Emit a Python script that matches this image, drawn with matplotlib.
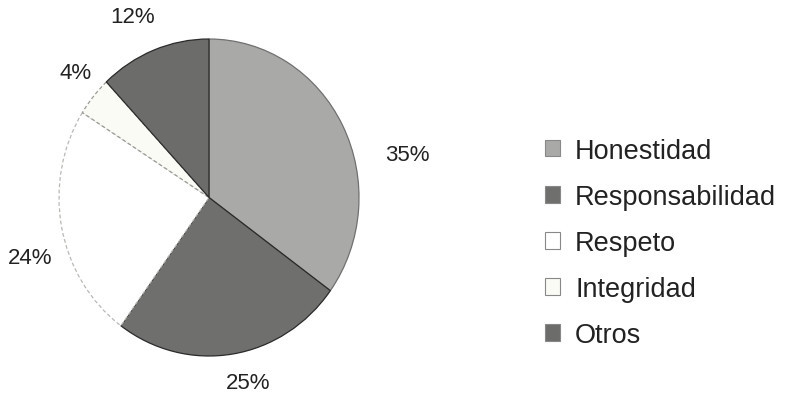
import matplotlib as mpl
import matplotlib.pyplot as plt
from matplotlib.patches import Patch

categories = ["Honestidad", "Responsabilidad", "Respeto", "Integridad", "Otros"]
shares = [35, 25, 24, 4, 12]
pct_labels = ["35%", "25%", "24%", "4%", "12%"]

COLORS = ["#a9a9a7", "#6f6f6d", "#ffffff", "#fbfbf6", "#6c6c6a"]
EDGES = ["#707070", "#2a2a2a", "#b8b8b4", "#9a9a96", "#2a2a2a"]
# label anchor points in pie units (hand-placed like the original)
LABEL_XY = [(1.32, 0.27), (0.26, -1.17), (-1.19, -0.38), (-0.89, 0.79), (-0.51, 1.14)]

mpl.rcParams.update({"font.family": ["Liberation Sans", "DejaVu Sans"]})

fig = plt.figure(figsize=(8.04, 4.06), dpi=100, facecolor="white")
ax = fig.add_axes([59 / 804, 49 / 406, 300 / 804, 317 / 406])

wedges, _ = ax.pie(
    shares,
    colors=COLORS,
    startangle=90,
    counterclock=False,
    radius=1.0,
    wedgeprops={"linewidth": 0.9},
)
for wedge, edge in zip(wedges, EDGES):
    wedge.set_edgecolor(edge)
wedges[2].set_linestyle((0, (3, 2)))
wedges[3].set_linestyle((0, (3, 2)))
ax.set_aspect("auto")
ax.set_xlim(-1.0, 1.0)
ax.set_ylim(-1.0, 1.0)
ax.axis("off")

for text, (x, y) in zip(pct_labels, LABEL_XY):
    ax.text(x, y, text, ha="center", va="center", fontsize=16, color="#222222")

handles = [Patch(facecolor=c, edgecolor="#888888", linewidth=0.8) for c in COLORS]
fig.legend(
    handles,
    categories,
    loc="center left",
    bbox_to_anchor=(521 / 804, 1 - 244 / 406),
    frameon=False,
    fontsize=19.5,
    handlelength=0.55,
    handleheight=0.55,
    handletextpad=0.55,
    labelspacing=0.74,
    labelcolor="#222222",
)

fig.savefig("out.png", dpi=100, facecolor="white")
